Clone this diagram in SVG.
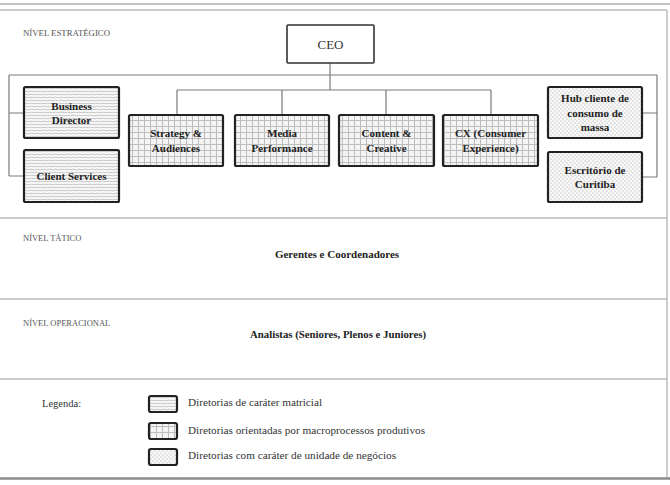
<svg xmlns="http://www.w3.org/2000/svg" width="670" height="485" viewBox="0 0 670 485">
<defs>
<pattern id="pH" width="6" height="3" patternUnits="userSpaceOnUse"><rect width="6" height="3" fill="#fafafa"/><path d="M0 1.5 Q1.5 0.8 3 1.5 T6 1.5" fill="none" stroke="#b4b4b4" stroke-width="0.8"/></pattern>
<pattern id="pG" width="6" height="6" patternUnits="userSpaceOnUse"><rect width="6" height="6" fill="#f4f4f4"/><path d="M0 0.5H6M0.5 0V6" stroke="#bdbdbd" stroke-width="1"/></pattern>
<pattern id="pD" width="4" height="4" patternUnits="userSpaceOnUse"><rect width="4" height="4" fill="#f8f8f8"/><circle cx="1" cy="1" r="0.55" fill="#a0a0a0"/><circle cx="3" cy="3" r="0.55" fill="#a0a0a0"/></pattern>
</defs>
<style>
.frame{stroke:#bdbdbd;stroke-width:1.5;fill:none}
.conn{stroke:#7a7a7a;stroke-width:1.2;fill:none}
.box{stroke:#222;stroke-width:2.2}
.h{fill:url(#pH)}.g{fill:url(#pG)}.d{fill:url(#pD)}
.lbl{font-family:"Liberation Serif",serif;font-weight:bold;font-size:11px;fill:#222;text-anchor:middle}
.lvl{font-family:"Liberation Serif",serif;font-size:8.5px;fill:#555}
.mid{font-family:"Liberation Serif",serif;font-weight:bold;font-size:11px;fill:#222;text-anchor:middle}
.leg{font-family:"Liberation Serif",serif;font-size:10.5px;fill:#333}
</style>
<rect width="670" height="485" fill="#ffffff"/>
<g id="frame">
<line x1="0" y1="4" x2="670" y2="4" stroke="#b0b0b0" stroke-width="1.5"/>
<line class="frame" x1="0" y1="10" x2="667" y2="10"/>
<line class="frame" x1="667" y1="10" x2="667" y2="478"/>
<line class="frame" x1="0" y1="218" x2="667" y2="218"/>
<line class="frame" x1="0" y1="299" x2="667" y2="299"/>
<line class="frame" x1="0" y1="379" x2="667" y2="379"/>
<line x1="0" y1="478.5" x2="670" y2="478.5" stroke="#8e8e8e" stroke-width="2.5"/>
<text class="lvl" x="23" y="36" textLength="87" lengthAdjust="spacingAndGlyphs">NÍVEL ESTRATÉGICO</text>
<text class="lvl" x="23" y="241">NÍVEL TÁTICO</text>
<text class="lvl" x="23" y="326">NÍVEL OPERACIONAL</text>
</g>
<g id="connectors">
<path class="conn" d="M330 63V90"/>
<path class="conn" d="M9 75H657"/>
<path class="conn" d="M9 75V176M9 113H24M9 176H24"/>
<path class="conn" d="M657 75V177M657 113H642M657 177H642"/>
<path class="conn" d="M177 90H491M177 90V115M282 90V115M386 90V115M491 90V115"/>
</g>
<g id="ceo">
<rect x="287" y="25" width="87" height="38" fill="#fff" stroke="#333" stroke-width="1.6" rx="1"/>
<text x="330.5" y="49" font-family="Liberation Serif,serif" font-size="13" fill="#333" text-anchor="middle">CEO</text>
</g>
<g id="business-director">
<rect class="box h" x="24" y="87" width="95" height="51" rx="1.5"/>
<text class="lbl" x="71.5" y="110">Business</text>
<text class="lbl" x="71.5" y="124">Director</text>
</g>
<g id="client-services">
<rect class="box h" x="24" y="150" width="95" height="52" rx="1.5"/>
<text class="lbl" x="71.5" y="180">Client Services</text>
</g>
<g id="strategy">
<rect class="box g" x="129" y="115" width="94" height="51" rx="1.5"/>
<text class="lbl" x="176" y="137">Strategy &amp;</text>
<text class="lbl" x="176" y="152">Audiences</text>
</g>
<g id="media">
<rect class="box g" x="235" y="115" width="94" height="51" rx="1.5"/>
<text class="lbl" x="282" y="137">Media</text>
<text class="lbl" x="282" y="152">Performance</text>
</g>
<g id="content">
<rect class="box g" x="339" y="115" width="95" height="51" rx="1.5"/>
<text class="lbl" x="386.5" y="137">Content &amp;</text>
<text class="lbl" x="386.5" y="152">Creative</text>
</g>
<g id="cx">
<rect class="box g" x="443" y="115" width="95" height="51" rx="1.5"/>
<text class="lbl" x="490.5" y="137">CX (Consumer</text>
<text class="lbl" x="490.5" y="152">Experience)</text>
</g>
<g id="hub">
<rect class="box d" x="548" y="87" width="94" height="51" rx="1.5"/>
<text class="lbl" x="595" y="102">Hub cliente  de</text>
<text class="lbl" x="595" y="117">consumo de</text>
<text class="lbl" x="595" y="131">massa</text>
</g>
<g id="escritorio">
<rect class="box d" x="548" y="152" width="94" height="50" rx="1.5"/>
<text class="lbl" x="595" y="174">Escritório de</text>
<text class="lbl" x="595" y="188">Curitiba</text>
</g>
<g id="gerentes">
<text class="mid" x="337" y="258">Gerentes e Coordenadores</text>
</g>
<g id="analistas">
<text class="mid" x="338" y="338" textLength="176" lengthAdjust="spacingAndGlyphs">Analistas  (Seniores, Plenos e Juniores)</text>
</g>
<g id="legend">
<text class="leg" x="42" y="407">Legenda:</text>
<rect class="box h" x="149" y="396" width="28" height="16" rx="2"/>
<rect class="box g" x="149" y="423" width="28" height="16" rx="2"/>
<rect class="box d" x="149" y="449" width="28" height="16" rx="2"/>
<text class="leg" x="188" y="406" textLength="134" lengthAdjust="spacingAndGlyphs">Diretorias de caráter matricial</text>
<text class="leg" x="188" y="434" textLength="237" lengthAdjust="spacingAndGlyphs">Diretorias orientadas por macroprocessos produtivos</text>
<text class="leg" x="188" y="459" textLength="208" lengthAdjust="spacingAndGlyphs">Diretorias com caráter de unidade de negócios</text>
</g>
</svg>
